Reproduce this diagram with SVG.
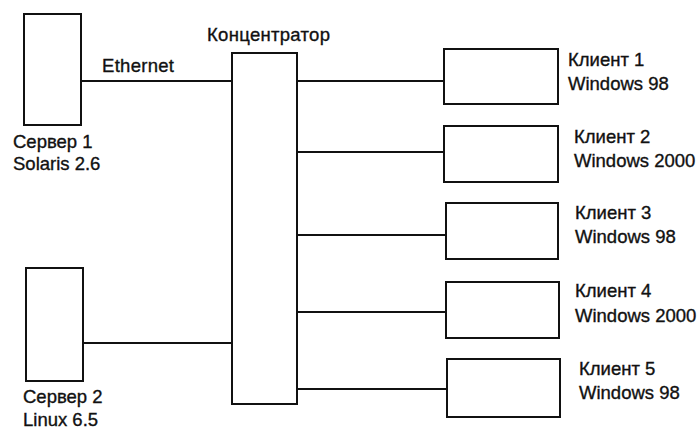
<svg xmlns="http://www.w3.org/2000/svg" width="699" height="430" viewBox="0 0 699 430">
<style>
.box{fill:#fff;stroke:#111;stroke-width:2}
.ln{stroke:#111;stroke-width:2;fill:none}
text{font-family:"Liberation Sans",Arial,sans-serif;font-size:18.5px;fill:#111;stroke:#111;stroke-width:0.35}
</style>
<rect width="699" height="430" fill="#fff"/>
<g id="connectors">
<line class="ln" x1="81" y1="81" x2="232" y2="81"/>
<line class="ln" x1="83" y1="343" x2="233" y2="343"/>
<line class="ln" x1="297" y1="81" x2="444" y2="81"/>
<line class="ln" x1="297" y1="152" x2="444" y2="152"/>
<line class="ln" x1="297" y1="235" x2="446" y2="235"/>
<line class="ln" x1="297" y1="312" x2="446" y2="312"/>
<line class="ln" x1="297" y1="389" x2="447" y2="389"/>
<text x="102" y="72" textLength="72">Ethernet</text>
</g>
<g id="server1">
<rect class="box" x="24" y="14" width="57" height="111"/>
<text x="13" y="148">Сервер 1</text>
<text x="13" y="170">Solaris 2.6</text>
</g>
<g id="server2">
<rect class="box" x="26" y="268" width="57" height="113"/>
<text x="23" y="403">Сервер 2</text>
<text x="23" y="426">Linux 6.5</text>
</g>
<g id="hub">
<rect class="box" x="232" y="53" width="65" height="351"/>
<text x="207" y="41" textLength="123">Концентратор</text>
</g>
<g id="client1">
<rect class="box" x="444" y="49" width="114" height="55"/>
<text x="568" y="66">Клиент 1</text>
<text x="568" y="90">Windows 98</text>
</g>
<g id="client2">
<rect class="box" x="444" y="126" width="114" height="56"/>
<text x="574" y="143">Клиент 2</text>
<text x="574" y="167">Windows 2000</text>
</g>
<g id="client3">
<rect class="box" x="446" y="203" width="112" height="56"/>
<text x="575" y="219">Клиент 3</text>
<text x="575" y="243">Windows 98</text>
</g>
<g id="client4">
<rect class="box" x="446" y="282" width="113" height="56"/>
<text x="575" y="297">Клиент 4</text>
<text x="575" y="322">Windows 2000</text>
</g>
<g id="client5">
<rect class="box" x="447" y="359" width="113" height="58"/>
<text x="579" y="375">Клиент 5</text>
<text x="579" y="399">Windows 98</text>
</g>
</svg>
